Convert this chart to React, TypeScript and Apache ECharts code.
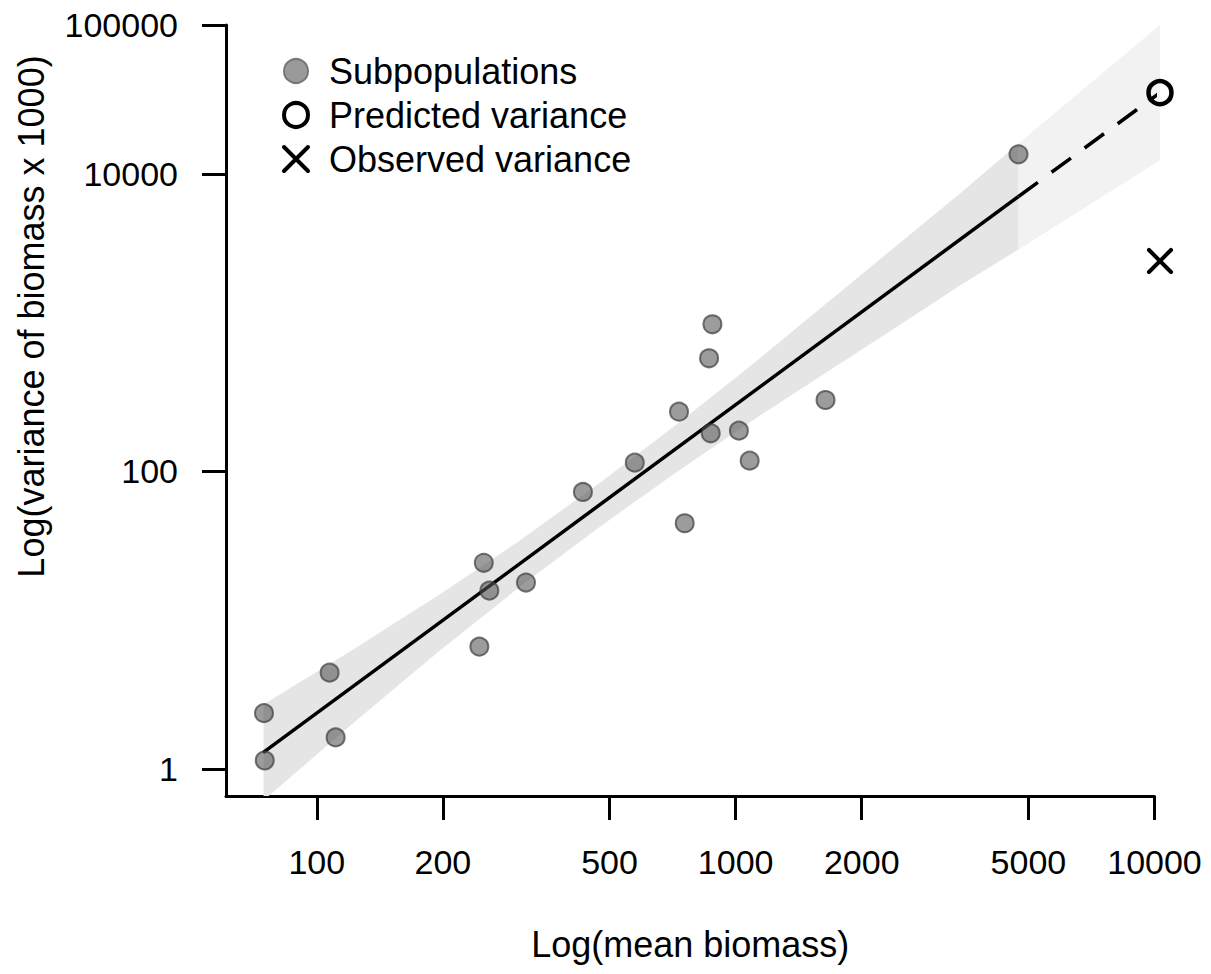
import React, { useEffect, useRef } from 'react';
import * as echarts from 'echarts';

// Axis ticks
const xTicks = [100, 200, 500, 1000, 2000, 5000, 10000];
const yTicks = [1, 100, 10000, 100000];

// Subpopulations (mean biomass, variance of biomass x 1000)
const meanBiomass = [74.8, 75.1, 107.3, 110.9, 244.4, 250.4, 258.2, 315.8, 431.9, 574.3, 732.4, 755.7, 864, 871.9, 880.1, 1018, 1080, 1639, 4735];
const varianceBiomass = [2.37, 1.14, 4.44, 1.63, 6.64, 24.3, 15.8, 17.9, 72.7, 114.4, 251.8, 44.8, 575.6, 180.3, 974, 187.7, 118, 301.8, 13520];

// Predicted / observed variance
const predictedPoint = [10306, 35080];
const observedPoint = [10306, 2594];

// Fitted line (solid) and extrapolation (dashed)
const fitX = [74.4, 4735];
const fitY = [1.287, 7038];
const extX = [4735, 10306];
const extY = [7038, 35080];

// Confidence band
const bandX = [74.6, 120.8, 198.1, 307.3, 476.9, 739.4, 1086, 1594, 2474, 3439, 4735];
const bandUpper = [2.715, 6.23, 15.09, 34.7, 84.9, 217.5, 513, 1248, 3455, 7390, 15980];
const bandLower = [0.614, 1.98, 6.34, 17.0, 43.0, 103.5, 215.7, 435.8, 971.6, 1780, 3099];

// Extrapolated band
const extBandX = [4735, 10306];
const extBandUpper = [15980, 100000];
const extBandLower = [3099, 12330];

const xMin = 60.7;
const xMax = 10000;
const yMin = 0.658;
const yMax = 100000;

const lg = (v: number) => Math.log10(v);
const FONT = '"Liberation Sans", Arial, Helvetica, sans-serif';
const crossPath = 'path://M0,0L20,20M20,0L0,20';
const fmt = (v: number) => String(Math.round(Math.pow(10, v)));

function bandSeries(xs: number[], up: number[], lo: number[], fill: string, clip: boolean) {
  return {
    type: 'custom',
    silent: true,
    clip,
    z: 1,
    data: [[lg(xs[0]), lg(up[0])]],
    renderItem: (_params: any, api: any) => {
      const top = xs.map((x, i) => api.coord([lg(x), lg(up[i])]));
      const bottom = xs.map((x, i) => api.coord([lg(x), lg(lo[i])])).reverse();
      return {
        type: 'polygon',
        shape: { points: top.concat(bottom) },
        style: { fill, stroke: 'none' },
      };
    },
  };
}

export default function App() {
  const ref = useRef<HTMLDivElement>(null);
  useEffect(() => {
    if (!ref.current) return;
    const chart = echarts.init(ref.current, undefined, { renderer: 'svg' });
    const option: any = {
      animation: false,
      backgroundColor: '#ffffff',
      grid: { left: 226, right: 56.5, top: 25, bottom: 178, containLabel: false, outerBoundsMode: 'none' },
      legend: {
        orient: 'vertical',
        left: 282,
        top: 51,
        padding: 0,
        itemWidth: 30,
        itemHeight: 24,
        itemGap: 4,
        selectedMode: false,
        textStyle: { fontSize: 36, color: '#000', fontFamily: FONT, lineHeight: 40, padding: [0, 0, 0, 13] },
        data: [
          { name: 'Subpopulations', icon: 'circle', itemStyle: { color: '#9a9a9a', borderColor: '#777777', borderWidth: 2, opacity: 1 } },
          { name: 'Predicted variance', icon: 'circle', itemStyle: { color: 'rgba(0,0,0,0)', borderColor: '#000', borderWidth: 4, opacity: 1 } },
          { name: 'Observed variance', icon: crossPath, itemStyle: { color: 'rgba(0,0,0,0)', borderColor: '#000', borderWidth: 4, borderCap: 'round', opacity: 1 } },
        ],
      },
      xAxis: {
        type: 'value',
        min: lg(xMin),
        max: lg(xMax),
        axisLine: { show: true, onZero: false, lineStyle: { color: '#000', width: 3 } },
        axisTick: { show: true, length: 24, lineStyle: { color: '#000', width: 3 }, customValues: xTicks.map(lg) },
        axisLabel: { customValues: xTicks.map(lg), formatter: fmt, fontSize: 34, color: '#000', fontFamily: FONT, margin: 49 },
        splitLine: { show: false },
        name: 'Log(mean biomass)',
        nameLocation: 'middle',
        nameGap: 130,
        nameTextStyle: { fontSize: 36, color: '#000', fontFamily: FONT },
      },
      yAxis: {
        type: 'value',
        min: lg(yMin),
        max: lg(yMax),
        axisLine: { show: true, onZero: false, lineStyle: { color: '#000', width: 3 } },
        axisTick: { show: true, length: 24, lineStyle: { color: '#000', width: 3 }, customValues: yTicks.map(lg) },
        axisLabel: { customValues: yTicks.map(lg), formatter: fmt, fontSize: 34, color: '#000', fontFamily: FONT, margin: 48 },
        splitLine: { show: false },
        name: 'Log(variance of biomass x 1000)',
        nameLocation: 'middle',
        nameRotate: 90,
        nameGap: 177,
        nameTextStyle: { fontSize: 36, color: '#000', fontFamily: FONT, padding: [0, 0, 0, 188] },
      },
      series: [
        bandSeries(bandX, bandUpper, bandLower, '#e5e5e5', true),
        bandSeries(extBandX, extBandUpper, extBandLower, '#f2f2f2', false),
        {
          type: 'line',
          silent: true,
          showSymbol: false,
          z: 2,
          lineStyle: { color: '#000', width: 3.5 },
          data: fitX.map((x, i) => [lg(x), lg(fitY[i])]),
        },
        {
          type: 'line',
          silent: true,
          showSymbol: false,
          clip: false,
          z: 2,
          lineStyle: { color: '#000', width: 3.5, type: [24, 17] },
          data: extX.map((x, i) => [lg(x), lg(extY[i])]),
        },
        {
          name: 'Subpopulations',
          type: 'scatter',
          z: 3,
          clip: false,
          symbol: 'circle',
          symbolSize: 18,
          itemStyle: { color: 'rgba(85,85,85,0.58)', borderColor: 'rgba(60,60,60,0.7)', borderWidth: 2, opacity: 1 },
          data: meanBiomass.map((x, i) => [lg(x), lg(varianceBiomass[i])]),
        },
        {
          name: 'Predicted variance',
          type: 'scatter',
          z: 4,
          clip: false,
          symbol: 'circle',
          symbolSize: 23,
          itemStyle: { color: 'rgba(0,0,0,0)', borderColor: '#000', borderWidth: 4.5, opacity: 1 },
          data: [[lg(predictedPoint[0]), lg(predictedPoint[1])]],
        },
        {
          name: 'Observed variance',
          type: 'scatter',
          z: 4,
          clip: false,
          symbol: crossPath,
          symbolSize: 22,
          itemStyle: { color: 'rgba(0,0,0,0)', borderColor: '#000', borderWidth: 4, borderCap: 'round', opacity: 1 },
          data: [[lg(observedPoint[0]), lg(observedPoint[1])]],
        },
      ],
    };
    chart.setOption(option);
    return () => chart.dispose();
  }, []);
  return <div ref={ref} style={{ position: 'absolute', left: 0, top: 0, width: 1211, height: 974 }} />;
}
